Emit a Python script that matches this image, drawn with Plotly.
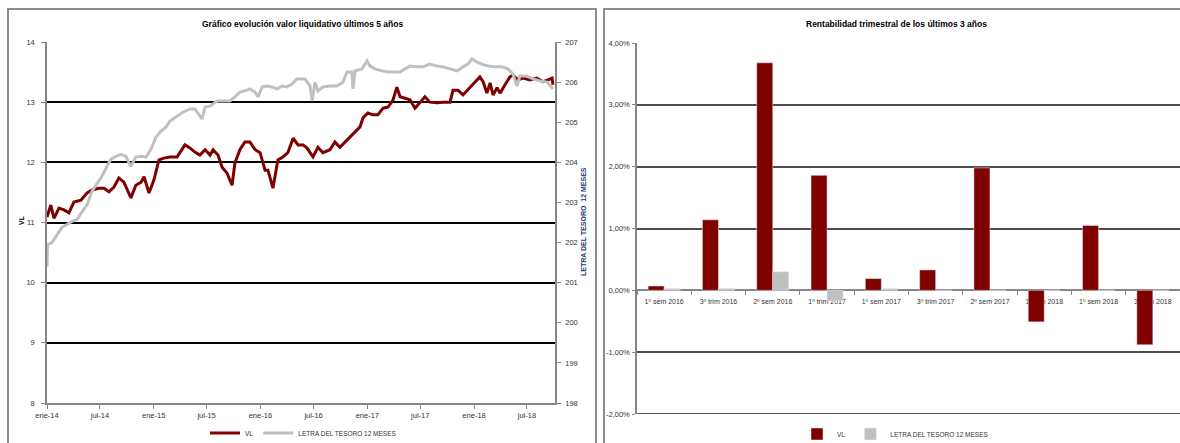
import plotly.graph_objects as go

# ---------------- data: left chart (daily NAV vs Treasury bill index) ----------------
vl_dates = [
    "2014-01-01", "2014-01-14", "2014-01-25", "2014-02-11", "2014-02-28", "2014-03-17",
    "2014-04-03", "2014-04-27", "2014-05-18", "2014-06-04", "2014-06-28", "2014-07-15",
    "2014-08-01", "2014-08-18", "2014-09-04", "2014-09-21", "2014-10-15", "2014-11-01",
    "2014-11-19", "2014-11-29", "2014-12-16", "2015-01-02", "2015-01-19", "2015-02-05",
    "2015-02-26", "2015-03-22", "2015-04-18", "2015-05-05", "2015-05-22", "2015-06-08",
    "2015-06-26", "2015-07-13", "2015-07-23", "2015-08-09", "2015-08-23", "2015-09-09",
    "2015-09-26", "2015-10-06", "2015-10-23", "2015-11-09", "2015-11-26", "2015-12-14",
    "2015-12-31", "2016-01-17", "2016-01-27", "2016-02-13", "2016-03-01", "2016-03-18",
    "2016-04-04", "2016-04-22", "2016-05-09", "2016-05-26", "2016-06-08", "2016-06-29",
    "2016-07-16", "2016-08-02", "2016-08-26", "2016-09-12", "2016-09-29", "2016-10-17",
    "2016-11-03", "2016-11-20", "2016-12-07", "2016-12-17", "2017-01-03", "2017-01-20",
    "2017-02-06", "2017-02-24", "2017-03-13", "2017-03-30", "2017-04-12", "2017-04-23",
    "2017-05-10", "2017-05-27", "2017-06-13", "2017-06-30", "2017-07-17", "2017-08-03",
    "2017-08-27", "2017-09-17", "2017-10-11", "2017-10-21", "2017-11-07", "2017-11-24",
    "2017-12-18", "2018-01-04", "2018-01-21", "2018-02-01", "2018-02-14", "2018-02-25",
    "2018-03-07", "2018-03-21", "2018-03-31", "2018-04-17", "2018-05-04", "2018-05-14",
    "2018-05-31", "2018-06-17", "2018-07-11", "2018-08-04", "2018-08-25", "2018-09-11",
    "2018-09-25", "2018-09-28",
]
vl_values = [
    11.09, 11.29, 11.07, 11.24, 11.21, 11.16,
    11.34, 11.37, 11.49, 11.54, 11.57, 11.57,
    11.51, 11.59, 11.74, 11.67, 11.41, 11.62,
    11.67, 11.76, 11.49, 11.71, 12.04, 12.07,
    12.09, 12.09, 12.29, 12.24, 12.17, 12.12,
    12.21, 12.12, 12.21, 12.12, 11.92, 11.82,
    11.62, 11.99, 12.21, 12.34, 12.34, 12.21,
    12.16, 11.87, 11.87, 11.57, 12.04, 12.09,
    12.16, 12.40, 12.29, 12.29, 12.24, 12.09,
    12.25, 12.16, 12.21, 12.34, 12.25, 12.34,
    12.42, 12.50, 12.59, 12.74, 12.82, 12.79,
    12.79, 12.90, 12.92, 13.04, 13.25, 13.09,
    13.07, 13.04, 12.90, 13.00, 13.09, 13.00,
    12.99, 13.00, 13.00, 13.20, 13.20, 13.12,
    13.24, 13.32, 13.42, 13.34, 13.15, 13.32,
    13.12, 13.24, 13.15, 13.29, 13.42, 13.45,
    13.37, 13.40, 13.37, 13.40, 13.34, 13.37,
    13.40, 13.29,
]

letra_dates = [
    "2014-01-01", "2014-01-03", "2014-01-18", "2014-02-04", "2014-02-21", "2014-03-10",
    "2014-03-28", "2014-04-14", "2014-05-01", "2014-05-18", "2014-06-04", "2014-06-21",
    "2014-07-08", "2014-07-25", "2014-08-08", "2014-08-25", "2014-09-11", "2014-09-28",
    "2014-10-15", "2014-11-01", "2014-11-19", "2014-12-06", "2014-12-23", "2015-01-09",
    "2015-01-26", "2015-02-12", "2015-02-26", "2015-03-22", "2015-04-11", "2015-05-05",
    "2015-05-22", "2015-06-15", "2015-06-26", "2015-07-13", "2015-08-06", "2015-08-26",
    "2015-09-19", "2015-10-06", "2015-10-23", "2015-11-09", "2015-11-26", "2015-12-14",
    "2015-12-24", "2016-01-07", "2016-01-24", "2016-02-10", "2016-02-27", "2016-03-15",
    "2016-04-01", "2016-04-18", "2016-05-05", "2016-05-22", "2016-06-02", "2016-06-19",
    "2016-06-26", "2016-07-06", "2016-07-16", "2016-08-02", "2016-08-26", "2016-09-19",
    "2016-10-10", "2016-10-23", "2016-11-09", "2016-11-13", "2016-11-20", "2016-12-14",
    "2016-12-31", "2017-01-10", "2017-01-27", "2017-02-20", "2017-03-13", "2017-04-06",
    "2017-04-23", "2017-05-10", "2017-05-27", "2017-06-20", "2017-07-10", "2017-08-03",
    "2017-08-27", "2017-09-17", "2017-10-11", "2017-11-04", "2017-11-24", "2017-12-11",
    "2017-12-25", "2018-01-11", "2018-01-28", "2018-02-18", "2018-03-14", "2018-04-07",
    "2018-04-27", "2018-05-14", "2018-05-28", "2018-06-07", "2018-07-01", "2018-07-22",
    "2018-08-15", "2018-09-08", "2018-09-28",
]
letra_values = [
    201.40, 201.95, 202.00, 202.20, 202.38, 202.45,
    202.53, 202.58, 202.78, 202.95, 203.28, 203.45,
    203.65, 203.90, 204.08, 204.15, 204.20, 204.15,
    203.90, 204.13, 204.15, 204.13, 204.33, 204.63,
    204.78, 204.88, 205.03, 205.15, 205.25, 205.33,
    205.33, 205.08, 205.38, 205.40, 205.53, 205.53,
    205.53, 205.63, 205.75, 205.78, 205.83, 205.75,
    205.63, 205.88, 205.90, 205.88, 205.83, 205.90,
    205.88, 205.95, 206.08, 206.08, 206.08, 205.90,
    205.53, 206.00, 205.78, 205.88, 205.90, 205.90,
    206.00, 206.25, 206.25, 205.83, 206.28, 206.33,
    206.53, 206.40, 206.33, 206.28, 206.25, 206.25,
    206.25, 206.33, 206.40, 206.38, 206.38, 206.45,
    206.40, 206.38, 206.33, 206.28, 206.38, 206.45,
    206.58, 206.50, 206.45, 206.40, 206.38, 206.38,
    206.33, 206.20, 205.90, 206.15, 206.15, 206.08,
    206.03, 206.00, 205.83,
]

date_ticks = ["2014-01-01", "2014-07-01", "2015-01-01", "2015-07-01", "2016-01-01",
              "2016-07-01", "2017-01-01", "2017-07-01", "2018-01-01", "2018-07-01"]
date_tick_labels = ["ene-14", "jul-14", "ene-15", "jul-15", "ene-16",
                    "jul-16", "ene-17", "jul-17", "ene-18", "jul-18"]
vl_ticks = [8, 9, 10, 11, 12, 13, 14]
letra_ticks = [198, 199, 200, 201, 202, 203, 204, 205, 206, 207]

# ---------------- data: right chart (quarterly returns, %) ----------------
categories = ["1º sem 2016", "3º trim 2016", "2º sem 2016", "1º trim 2017", "1º sem 2017",
              "3º trim 2017", "2º sem 2017", "1º trim 2018", "1º sem 2018", "3º trim 2018"]
vl_returns = [0.07, 1.14, 3.68, 1.86, 0.19, 0.33, 1.98, -0.51, 1.05, -0.88]
letra_returns = [0.03, 0.03, 0.30, -0.17, 0.03, 0.0, 0.0, 0.0, 0.0, 0.0]
pct_ticks = [-2, -1, 0, 1, 2, 3, 4]
pct_tick_labels = ["-2,00%", "-1,00%", "0,00%", "1,00%", "2,00%", "3,00%", "4,00%"]

# ---------------- figure ----------------
W, H = 1180, 443
FONT = "Liberation Sans"
RED = "#800000"
GREY = "#C0C0C0"
AXIS = "#868686"
TXT = "#333333"


def fx(p):
    return p / W


def fy(p):
    return 1 - p / H


fig = go.Figure()

fig.add_trace(go.Scatter(x=vl_dates, y=vl_values, mode="lines", name="VL",
                         line=dict(color=RED, width=3), xaxis="x", yaxis="y",
                         legend="legend"))
fig.add_trace(go.Scatter(x=letra_dates, y=letra_values, mode="lines",
                         name="LETRA DEL TESORO 12 MESES",
                         line=dict(color=GREY, width=3), xaxis="x", yaxis="y2",
                         legend="legend"))

fig.add_trace(go.Bar(x=categories, y=vl_returns, name="VL", marker_color=RED,
                     xaxis="x2", yaxis="y3", legend="legend2"))
fig.add_trace(go.Bar(x=categories, y=letra_returns, name="LETRA DEL TESORO 12 MESES",
                     marker_color=GREY, xaxis="x2", yaxis="y3", legend="legend2"))

tickfont = dict(family=FONT, size=7.5, color=TXT)
catfont = dict(family=FONT, size=7, color=TXT)
legfont = dict(family=FONT, size=6.5, color=TXT)

fig.update_layout(
    width=W, height=H,
    margin=dict(l=0, r=0, t=0, b=0, autoexpand=False),
    paper_bgcolor="white", plot_bgcolor="white",
    font=dict(family=FONT, size=8, color=TXT),
    barmode="group", bargap=0.41, bargroupgap=0,
    xaxis=dict(domain=[fx(47), fx(555)], anchor="y", type="date",
               range=["2014-01-01", "2018-10-05"], automargin=False,
               tickvals=date_ticks, ticktext=date_tick_labels, tickangle=0,
               ticks="outside", ticklen=4, tickcolor=AXIS, tickwidth=1,
               showline=True, linecolor=AXIS, linewidth=1.5,
               showgrid=False, zeroline=False, tickfont=tickfont),
    yaxis=dict(domain=[fy(403), fy(42)], anchor="x", range=[8, 14], automargin=False,
               tickvals=vl_ticks, ticks="outside", ticklen=4, tickcolor=AXIS,
               ticklabelstandoff=5,
               showline=True, linecolor=AXIS, linewidth=1.5,
               showgrid=True, gridcolor="#000000", gridwidth=2,
               zeroline=False, tickfont=tickfont),
    yaxis2=dict(overlaying="y", anchor="x", side="right", range=[198, 207],
                automargin=False,
                tickvals=letra_ticks, ticks="outside", ticklen=4, tickcolor=AXIS,
                ticklabelstandoff=3,
                showline=True, linecolor=AXIS, linewidth=1.5,
                showgrid=False, zeroline=False, tickfont=tickfont),
    xaxis2=dict(domain=[fx(637), 1.0], anchor="free", position=fy(290.3),
                type="category", range=[-0.5, 9.5], automargin=False, tickangle=0,
                tickson="boundaries", ticks="outside", ticklen=4, tickcolor=AXIS,
                ticklabelstandoff=5,
                showline=True, linecolor=AXIS, linewidth=1.5,
                showgrid=False, zeroline=False, layer="below traces",
                tickfont=catfont),
    yaxis3=dict(domain=[fy(414), fy(43)], anchor="x2", range=[-2, 4],
                automargin=False,
                tickvals=pct_ticks, ticktext=pct_tick_labels,
                ticks="outside", ticklen=3, tickcolor=AXIS, ticklabelstandoff=1,
                showline=True, linecolor=AXIS, linewidth=1.5,
                showgrid=True, gridcolor="#4d4d4d", gridwidth=1.5,
                zeroline=False, tickfont=tickfont),
    legend=dict(x=fx(205), y=fy(433), xanchor="left", yanchor="middle",
                orientation="h", bgcolor="rgba(0,0,0,0)", font=legfont,
                itemwidth=30, tracegroupgap=0),
    legend2=dict(x=fx(797), y=fy(434), xanchor="left", yanchor="middle",
                 orientation="h", bgcolor="rgba(0,0,0,0)", font=legfont,
                 itemwidth=30, tracegroupgap=0),
    showlegend=True,
)

# panel borders
fig.add_shape(type="rect", xref="paper", yref="paper",
              x0=fx(8), x1=fx(596), y0=-0.05, y1=fy(9),
              line=dict(color="#8c8c8c", width=2), layer="below")
fig.add_shape(type="rect", xref="paper", yref="paper",
              x0=fx(604), x1=1.05, y0=-0.05, y1=fy(9),
              line=dict(color="#8c8c8c", width=2), layer="below")
# bottom gridline of the bar chart (at the lowest tick)
fig.add_shape(type="line", xref="paper", yref="y3",
              x0=fx(637), x1=1.0, y0=pct_ticks[0], y1=pct_ticks[0],
              line=dict(color="#1a1a1a", width=1.5), layer="below")

# titles
fig.add_annotation(text="<b>Gráfico evolución valor liquidativo últimos 5 años</b>",
                   x=fx(302), y=fy(24), xref="paper", yref="paper", showarrow=False,
                   xanchor="center", yanchor="middle",
                   font=dict(family=FONT, size=8.5, color="#000000"))
fig.add_annotation(text="<b>Rentabilidad trimestral de los últimos 3 años</b>",
                   x=fx(897), y=fy(24), xref="paper", yref="paper", showarrow=False,
                   xanchor="center", yanchor="middle",
                   font=dict(family=FONT, size=8.5, color="#000000"))
fig.add_annotation(text="<b>VL</b>", x=fx(22), y=fy(220), xref="paper", yref="paper",
                   showarrow=False, textangle=-90, xanchor="center", yanchor="middle",
                   font=dict(family=FONT, size=7, color="#000000"))
fig.add_annotation(text="<b>LETRA DEL TESORO  12 MESES</b>", x=fx(583), y=fy(222),
                   xref="paper", yref="paper", showarrow=False, textangle=-90,
                   xanchor="center", yanchor="middle",
                   font=dict(family=FONT, size=7, color="#1F3864"))

fig.write_html("out.html")
